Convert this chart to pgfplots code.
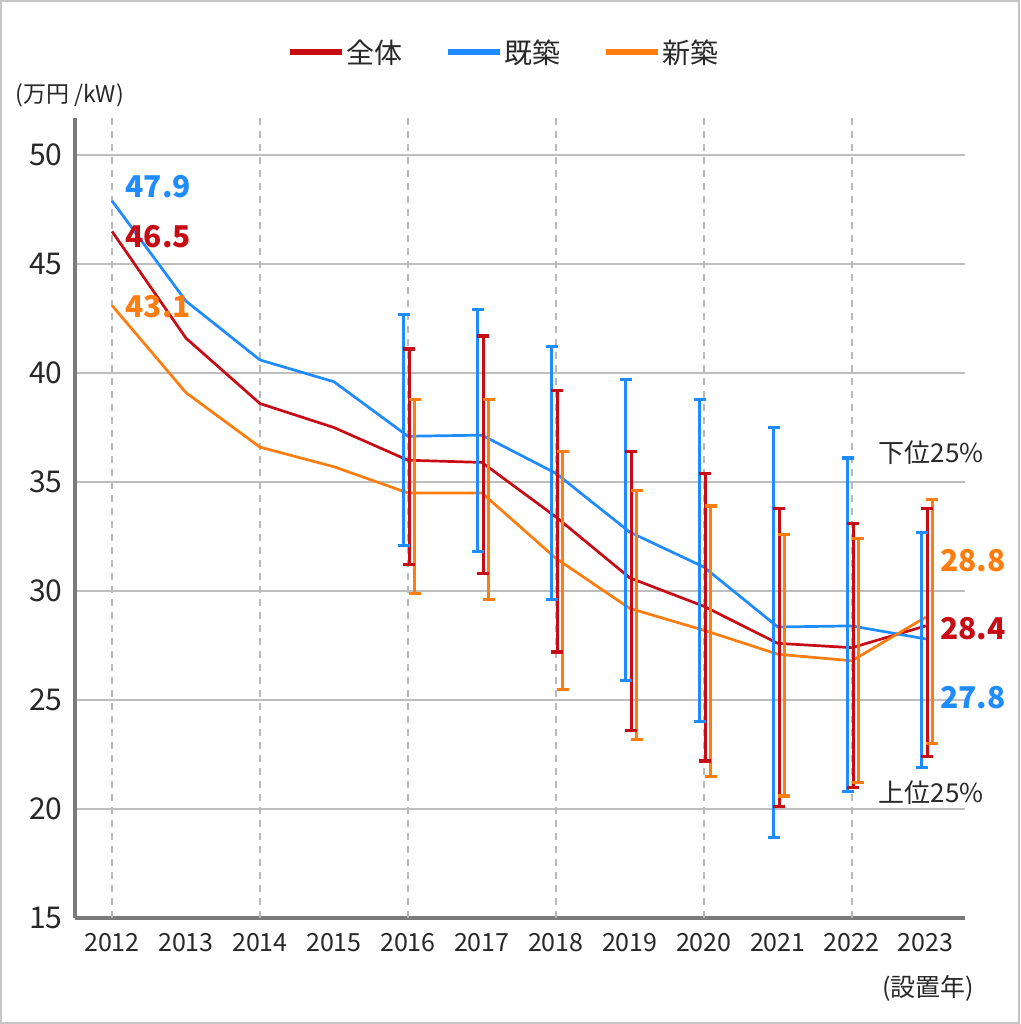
\documentclass[border=0pt]{standalone}
\usepackage{fontspec}
\setmainfont{Noto Sans CJK JP}
\usepackage{pgfplots}
\pgfplotsset{compat=1.18}
\usepackage{pgfplotstable}

\definecolor{cRed}{RGB}{200,12,22}
\definecolor{cBlue}{RGB}{30,140,255}
\definecolor{cOrange}{RGB}{255,125,15}
\definecolor{gridc}{RGB}{190,190,190}
\definecolor{axisc}{RGB}{122,122,122}
\definecolor{txt}{RGB}{40,40,40}

% mean values per year: all = 全体, old = 既築, new = 新築
\pgfplotstableread{
year all  old   new
2012 46.5 47.9  43.1
2013 41.6 43.3  39.1
2014 38.6 40.6  36.6
2015 37.5 39.6  35.7
2016 36.0 37.1  34.5
2017 35.9 37.15 34.5
2018 33.4 35.4  31.5
2019 30.6 32.7  29.2
2020 29.3 31.1  28.2
2021 27.6 28.35 27.1
2022 27.4 28.4  26.8
2023 28.4 27.8  28.8
}\means

% quartile ranges, top (下位25%) then bottom (上位25%) per year
\pgfplotstableread{
year v
2016 42.7
2016 32.1
nan nan
2017 42.9
2017 31.8
nan nan
2018 41.2
2018 29.6
nan nan
2019 39.7
2019 25.9
nan nan
2020 38.8
2020 24.0
nan nan
2021 37.5
2021 18.7
nan nan
2022 36.1
2022 20.8
nan nan
2023 32.7
2023 21.9
}\rngold
\pgfplotstableread{
year v
2016 41.1
2016 31.2
nan nan
2017 41.7
2017 30.8
nan nan
2018 39.2
2018 27.2
nan nan
2019 36.4
2019 23.6
nan nan
2020 35.4
2020 22.2
nan nan
2021 33.8
2021 20.1
nan nan
2022 33.1
2022 21.0
nan nan
2023 33.8
2023 22.4
}\rngall
\pgfplotstableread{
year v
2016 38.8
2016 29.9
nan nan
2017 38.8
2017 29.6
nan nan
2018 36.4
2018 25.5
nan nan
2019 34.6
2019 23.2
nan nan
2020 33.9
2020 21.5
nan nan
2021 32.6
2021 20.6
nan nan
2022 32.4
2022 21.2
nan nan
2023 34.2
2023 23.0
}\rngnew

\pgfplotsset{
  rangebar/.style={forget plot, #1, line width=3.2pt, unbounded coords=jump,
    mark=-, mark size=6pt, mark options={line width=3.2pt, #1}},
}

\begin{document}
\begin{tikzpicture}
\fill[white] (0,0) rectangle (1020pt,1024pt);
\useasboundingbox (0,0) rectangle (1020pt,1024pt);
\draw[gray!45, line width=2pt] (1pt,1pt) rectangle (1019pt,1023pt);

\begin{axis}[
  at={(75pt,106pt)}, anchor=south west,
  scale only axis, width=890pt, height=800pt,
  xmin=2011.5, xmax=2023.53, ymin=15, ymax=51.7,
  axis x line*=bottom, axis y line*=left,
  axis line style={-, line width=4pt, axisc},
  xtick={2012,...,2023}, ytick={15,20,...,50},
  major tick length=0pt,
  ymajorgrids, major grid style={gridc, line width=1.5pt},
  extra x ticks={2012,2014,...,2022}, extra x tick labels={},
  extra x tick style={xmajorgrids=true,
    major grid style={gray!55, line width=1.5pt, dash pattern=on 7pt off 6pt}},
  /pgf/number format/assume math mode=true,
  x tick label style={/pgf/number format/1000 sep={}, font=\fontsize{25}{28}\selectfont, text=txt, yshift=-12pt},
  y tick label style={font=\fontsize{30}{32}\selectfont, text=txt, xshift=-9pt},
  clip=false,
  legend style={draw=none, fill=none, at={(0.482,1)}, anchor=center, yshift=66pt,
    legend columns=3, font=\fontsize{28}{30}\selectfont, text=txt,
    /tikz/every even column/.append style={column sep=40pt}},
  legend image code/.code={\draw[#1, line width=6pt] (0pt,0pt) -- (52pt,0pt);},
]
\addplot[cRed, line width=2.7pt] table[x=year, y=all] {\means};
\addlegendentry{全体}
\addplot[cBlue, line width=2.7pt] table[x=year, y=old] {\means};
\addlegendentry{既築}
\addplot[cOrange, line width=2.7pt] table[x=year, y=new] {\means};
\addlegendentry{新築}

\addplot[rangebar=cBlue] table[x expr=\thisrow{year}-0.055, y=v] {\rngold};
\addplot[rangebar=cRed] table[x expr=\thisrow{year}+0.02, y=v] {\rngall};
\addplot[rangebar=cOrange] table[x expr=\thisrow{year}+0.09, y=v] {\rngnew};

\begin{scope}[every node/.style={font=\fontsize{30}{32}\selectfont\bfseries, anchor=west, inner sep=0pt}]
\node[cBlue] at (axis cs:2012.18,48.53) {47.9};
\node[cRed] at (axis cs:2012.18,46.28) {46.5};
\node[cOrange] at (axis cs:2012.18,43.03) {43.1};
\node[cOrange] at (axis cs:2023.19,31.38) {28.8};
\node[cRed] at (axis cs:2023.19,28.26) {28.4};
\node[cBlue] at (axis cs:2023.19,25.09) {27.8};
\end{scope}
\begin{scope}[every node/.style={font=\fontsize{26}{28}\selectfont, text=txt, anchor=west, inner sep=0pt}]
\node at (axis cs:2022.36,36.33) {下位25\%};
\node at (axis cs:2022.36,20.73) {上位25\%};
\node[anchor=east, font=\fontsize{25}{27}\selectfont] at (axis cs:2023.66,11.79) {(設置年)};
\node[font=\fontsize{23}{25}\selectfont] at (axis cs:2010.69,52.75) {(万円 /kW)};
\end{scope}
\end{axis}
\end{tikzpicture}
\end{document}
